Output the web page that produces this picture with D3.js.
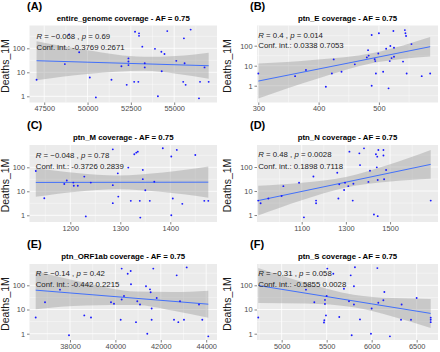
<!DOCTYPE html>
<html>
<head>
<meta charset="utf-8">
<script src="https://cdn.jsdelivr.net/npm/d3@7"></script>
<style>
  body { margin: 0; background: #fff; }
  svg { display: block; font-family: "Liberation Sans", Arial, sans-serif; }
</style>
</head>
<body>
<div id="chart"></div>
<script>
const w = 440
const h = 352

const tags = ['(A)', '(B)', '(C)', '(D)', '(E)', '(F)']
const titles = [
    'entire_genome coverage - AF = 0.75',
    'ptn_E coverage - AF = 0.75',
    'ptn_M coverage - AF = 0.75',
    'ptn_N coverage - AF = 0.75',
    'ptn_ORF1ab coverage - AF = 0.75',
    'ptn_S coverage - AF = 0.75'
]
const rValues = ['\u22120.068', '0.4', '\u22120.048', '0.48', '\u22120.14', '\u22120.31']
const pValues = ['0.69', '0.014', '0.78', '0.0028', '0.42', '0.058']
const confInts = ['-0.3769 0.2671', '0.0338 0.7053', '-0.3726 0.2839', '0.1898 0.7118', '-0.442 0.2215', '-0.5855 0.0028']
const labelY = [330, 110]
const yTicks = [1, 10, 100]

// (A) entire genome
const aX = [47058, 48690, 48940, 49516, 50130, 50480, 51380, 51955, 52260, 52360, 52360, 52360, 52690, 52740, 52930, 52970, 52970, 53160, 53300, 53300, 53890, 54060, 54260, 54280, 54440, 54600, 55120, 55520, 55560, 55600, 55660, 55950, 56430, 56490, 56750, 56990]
const aY = [4.9, 22, 380, 68, 6.1, 0.9, 4.9, 18, 3, 38, 28, 20, 4, 490, 4, 420, 330, 117, 24, 16, 95, 1, 72, 11, 58, 520, 30, 4, 260, 24, 3, 600, 0.82, 4, 16, 4]
const aFitX = [47058, 56990]
const aFitY = [30.4, 18.8]
const aBandX = [47058, 50000, 53250, 55100, 56990]
const aBandLo = [4.7, 8.5, 11.5, 8.8, 5.4]
const aBandHi = [197, 82, 44, 48, 66]
const aTicks = [47500, 50000, 52500, 55000]
const aXDomain = [46650, 57470]
const aYDomain = [0.552, 891]

// (B) ptn_E
const bX = [300, 361, 379, 412, 422, 425, 438, 460, 480, 482, 483, 488, 488, 493, 494, 495, 499, 500, 507, 512, 516, 518, 519, 521, 524, 525, 525, 540, 543, 544, 545, 546, 554, 571, 585]
const bY = [4.1, 3.0, 6.1, 0.89, 4.1, 20.7, 5.0, 11.7, 26, 60, 32, 341, 1.0, 21, 17, 4.1, 41, 415, 5, 70, 0.74, 17, 96, 24, 540, 79, 28, 16, 600, 415, 305, 4.1, 120, 3.0, 4.1]
const bFitX = [300, 585]
const bFitY = [1.71, 89]
const bBandX = [300, 395, 490, 540, 585]
const bBandLo = [0.23, 2.1, 13.5, 22.3, 29.2]
const bBandHi = [12.7, 19.6, 42.7, 103, 272]
const bTicks = [300, 400, 500]
const bXDomain = [297.8, 598]
const bYDomain = [0.145, 1020]

// (C) ptn_M
const cX = [1131, 1148, 1188, 1193, 1206, 1207, 1215, 1228, 1231, 1241, 1285, 1285, 1285, 1295, 1296, 1316, 1321, 1328, 1332, 1335, 1339, 1340, 1345, 1345, 1350, 1359, 1368, 1385, 1402, 1402, 1405, 1413, 1424, 1450, 1468, 1476]
const cY = [70, 5.1, 20, 28, 23, 17, 17, 41, 0.9, 23, 560, 18, 3.2, 56, 6, 97, 4, 350, 408, 450, 4, 0.8, 32, 78, 11, 4, 25, 620, 280, 1, 5, 530, 3, 325, 4, 4]
const cFitX = [1131, 1476]
const cFitY = [23.4, 24.0]
const cBandX = [1131, 1213, 1295, 1385, 1476]
const cBandLo = [5.9, 9.6, 12.2, 9.3, 5.4]
const cBandHi = [93, 58, 46, 61, 107]
const cTicks = [1200, 1300, 1400]
const cXDomain = [1118.4, 1493.4]
const cYDomain = [0.525, 850]

// (D) ptn_N
const dX = [903, 914, 949, 1009, 1017, 1088, 1110, 1153, 1165, 1165, 1261, 1266, 1270, 1292, 1296, 1311, 1316, 1331, 1334, 1361, 1364, 1382, 1402, 1409, 1427, 1436, 1440, 1442, 1444, 1444, 1447, 1470, 1470, 1473, 1482, 1684]
const dY = [4, 3.1, 4.9, 6.2, 16, 22, 0.8, 40, 4, 3.1, 58, 4.9, 19, 11, 22, 16, 436, 4, 20, 370, 120, 600, 24, 70, 1.05, 340, 97, 270, 0.9, 29, 510, 510, 300, 31, 75, 4]
const dFitX = [903, 1684]
const dFitY = [4.0, 129]
const dBandX = [903, 1100, 1300, 1490, 1684]
const dBandLo = [0.95, 4.13, 14.1, 24.1, 32.4]
const dBandHi = [16.6, 22.2, 38.7, 122, 513]
const dTicks = [1100, 1300, 1500]
const dXDomain = [897.6, 1717]
const dYDomain = [0.513, 826]

// (E) ptn_ORF1ab
const eX = [36489, 36899, 37559, 37956, 38630, 38925, 39806, 39938, 40233, 40277, 40277, 40379, 40542, 40674, 40687, 40907, 40965, 41084, 41348, 41405, 41524, 41553, 41597, 41597, 41670, 41820, 42582, 42700, 42772, 42846, 43022, 43141, 43683, 43828, 44093]
const eY = [4.7, 20, 66, 0.86, 5.7, 4.7, 20, 17.4, 3.8, 490, 26, 36, 300, 390, 110, 3, 22, 16, 91, 1, 68, 52, 11, 3.8, 490, 30, 3.8, 258, 3, 22, 3.8, 550, 16, 3.8, 0.78]
const eFitX = [36489, 44093]
const eFitY = [63, 16.6]
const eBandX = [36489, 38700, 40900, 42500, 44093]
const eBandLo = [10.2, 14.8, 15.2, 9.0, 4.6]
const eBandHi = [389, 124, 55, 53, 60]
const eTicks = [38000, 40000, 42000, 44000]
const eXDomain = [36216, 44476]
const eYDomain = [0.55, 759]

// (F) ptn_S
const fX = [4740, 5270, 5363, 5470, 5474, 5481, 5481, 5492, 5500, 5507, 5574, 5640, 5692, 5748, 5767, 5778, 5803, 5803, 5814, 5870, 5992, 6000, 6063, 6074, 6130, 6141, 6203, 6326, 6333, 6437, 6500, 6656, 6656, 6656]
const fY = [4.7, 66, 20, 2.9, 3.6, 17, 25, 5.7, 36, 490, 300, 4.9, 72, 22, 258, 0.86, 91, 16, 560, 3.9, 1, 11, 515, 19, 24, 53, 0.78, 3.8, 16, 3.8, 30, 3.8, 3, 4.6]
const fFitX = [4740, 6656]
const fFitY = [98, 6.9]
const fBandX = [4740, 5270, 5800, 6230, 6656]
const fBandLo = [18.6, 17.7, 12.4, 5.2, 1.74]
const fBandHi = [513, 125, 41, 29.6, 27.5]
const fTicks = [5000, 5500, 6000, 6500]
const fXDomain = [4726, 6737]
const fYDomain = [0.55, 759]

const panels = [
    [aX, aY, aFitX, aFitY, aBandX, aBandLo, aBandHi, aTicks, aXDomain, aYDomain],
    [bX, bY, bFitX, bFitY, bBandX, bBandLo, bBandHi, bTicks, bXDomain, bYDomain],
    [cX, cY, cFitX, cFitY, cBandX, cBandLo, cBandHi, cTicks, cXDomain, cYDomain],
    [dX, dY, dFitX, dFitY, dBandX, dBandLo, dBandHi, dTicks, dXDomain, dYDomain],
    [eX, eY, eFitX, eFitY, eBandX, eBandLo, eBandHi, eTicks, eXDomain, eYDomain],
    [fX, fY, fFitX, fFitY, fBandX, fBandLo, fBandHi, fTicks, fXDomain, fYDomain]
]

const cols = [
    {x0: 29.5, x1: 217, tagX: 27, titleX: 5.5, c0: 0, c1: 220},
    {x0: 257, x1: 438, tagX: 250, titleX: 227.5, c0: 220, c1: 440}
]
const rows = [
    {y0: 25.5, y1: 102.5, tagY: 6, titleY: 18.3},
    {y0: 145, y1: 222, tagY: 125, titleY: 137.5},
    {y0: 264, y1: 340, tagY: 244, titleY: 256.5}
]

const svg = d3.select('#chart')
    .append('svg')
    .attr('width', w)
    .attr('height', h)

const defs = svg.append('defs')

panels.forEach((p, i) => {
    const [px, py, fitX, fitY, bandX, bandLo, bandHi, ticks, xDomain, yDomain] = p
    const col = cols[i % 2]
    const row = rows[Math.floor(i / 2)]

    const xScale = d3.scaleLinear().domain(xDomain).range([col.x0, col.x1])
    const yScale = d3.scaleLog().domain(yDomain).range([row.y1, row.y0])

    defs.append('clipPath').attr('id', 'cell' + i)
        .append('rect')
        .attr('x', col.c0).attr('y', row.tagY - 6)
        .attr('width', col.c1 - col.c0).attr('height', 119)
    defs.append('clipPath').attr('id', 'panel' + i)
        .append('rect')
        .attr('x', col.x0).attr('y', row.y0)
        .attr('width', col.x1 - col.x0).attr('height', row.y1 - row.y0)

    const g = svg.append('g').attr('clip-path', 'url(#cell' + i + ')')

    g.append('text')
        .attr('x', col.tagX)
        .attr('y', row.tagY)
        .attr('dy', '0.36em')
        .style('font-size', '11px')
        .style('font-weight', 'bold')
        .text(tags[i])

    g.append('text')
        .attr('x', (col.x0 + col.x1) / 2)
        .attr('y', row.titleY)
        .attr('dy', '0.36em')
        .attr('text-anchor', 'middle')
        .style('font-size', '7.8px')
        .style('font-weight', 'bold')
        .text(titles[i])

    g.append('rect')
        .attr('x', col.x0).attr('y', row.y0)
        .attr('width', col.x1 - col.x0).attr('height', row.y1 - row.y0)
        .attr('fill', '#ebebeb')

    const step = ticks[1] - ticks[0]
    const xMinor = [ticks[0] - step / 2].concat(ticks.map(t => t + step / 2))
        .filter(t => t > xDomain[0] && t < xDomain[1])
    const yMinor = [0.316, 3.16, 31.6, 316].filter(t => t > yDomain[0] && t < yDomain[1])

    const grid = g.append('g')
    grid.selectAll('.xminor').data(xMinor).enter().append('line')
        .attr('x1', d => xScale(d)).attr('x2', d => xScale(d))
        .attr('y1', row.y0).attr('y2', row.y1)
        .attr('stroke', '#fff').attr('stroke-width', 0.4)
    grid.selectAll('.yminor').data(yMinor).enter().append('line')
        .attr('x1', col.x0).attr('x2', col.x1)
        .attr('y1', d => yScale(d)).attr('y2', d => yScale(d))
        .attr('stroke', '#fff').attr('stroke-width', 0.4)
    grid.selectAll('.xmajor').data(ticks).enter().append('line')
        .attr('x1', d => xScale(d)).attr('x2', d => xScale(d))
        .attr('y1', row.y0).attr('y2', row.y1)
        .attr('stroke', '#fff').attr('stroke-width', 0.8)
    grid.selectAll('.ymajor').data(yTicks).enter().append('line')
        .attr('x1', col.x0).attr('x2', col.x1)
        .attr('y1', d => yScale(d)).attr('y2', d => yScale(d))
        .attr('stroke', '#fff').attr('stroke-width', 0.8)

    const inner = g.append('g').attr('clip-path', 'url(#panel' + i + ')')

    const band = bandX.map((x, k) => ({x: x, lo: bandLo[k], hi: bandHi[k]}))
    inner.append('path')
        .datum(band)
        .attr('d', d3.area()
            .x(d => xScale(d.x))
            .y0(d => yScale(d.lo))
            .y1(d => yScale(d.hi))
            .curve(d3.curveMonotoneX))
        .attr('fill', '#999999')
        .attr('fill-opacity', 0.42)

    inner.append('path')
        .datum(fitX.map((x, k) => [x, fitY[k]]))
        .attr('d', d3.line().x(d => xScale(d[0])).y(d => yScale(d[1])))
        .attr('fill', 'none')
        .attr('stroke', '#3366ff')
        .attr('stroke-width', 0.9)

    inner.selectAll('circle')
        .data(px.map((x, k) => [x, py[k]]))
        .enter()
        .append('circle')
        .attr('cx', d => xScale(d[0]))
        .attr('cy', d => yScale(d[1]))
        .attr('r', 0.95)
        .attr('fill', '#1a1aff')

    const lx = xScale(d3.min(px))
    const rText = g.append('text')
        .attr('x', lx)
        .attr('y', yScale(labelY[0]))
        .attr('dy', '0.36em')
        .style('font-size', '7.8px')
        .attr('fill', '#222')
    rText.append('tspan').style('font-style', 'italic').text('R')
    rText.append('tspan').text(' = ' + rValues[i] + ' , ')
    rText.append('tspan').style('font-style', 'italic').text('p')
    rText.append('tspan').text(' = ' + pValues[i])

    g.append('text')
        .attr('x', lx)
        .attr('y', yScale(labelY[1]))
        .attr('dy', '0.36em')
        .style('font-size', '7.8px')
        .attr('fill', '#222')
        .text('Conf. int.: ' + confInts[i])

    const yAxis = d3.axisLeft(yScale)
        .tickValues(yTicks)
        .tickFormat(d3.format('d'))
        .tickSize(2.5)
        .tickPadding(2)
    const xAxis = d3.axisBottom(xScale)
        .tickValues(ticks)
        .tickFormat(d3.format('d'))
        .tickSize(2.5)
        .tickPadding(1)

    g.append('g')
        .attr('transform', 'translate(' + col.x0 + ',0)')
        .call(yAxis)
    g.append('g')
        .attr('transform', 'translate(0,' + row.y1 + ')')
        .call(xAxis)

    g.selectAll('.domain').remove()
    g.selectAll('.tick line').attr('stroke', '#333').attr('stroke-width', 0.6)
    g.selectAll('.tick text')
        .attr('fill', '#4d4d4d')
        .style('font-size', '7.4px')
        .style('font-family', '"Liberation Sans", Arial, sans-serif')

    g.append('text')
        .attr('transform', 'translate(' + col.titleX + ',' + ((row.y0 + row.y1) / 2 + 2) + ') rotate(-90)')
        .attr('dy', '0.36em')
        .attr('text-anchor', 'middle')
        .style('font-size', '10.5px')
        .attr('fill', '#1a1a1a')
        .text('Deaths_1M')
})
</script>
</body>
</html>
